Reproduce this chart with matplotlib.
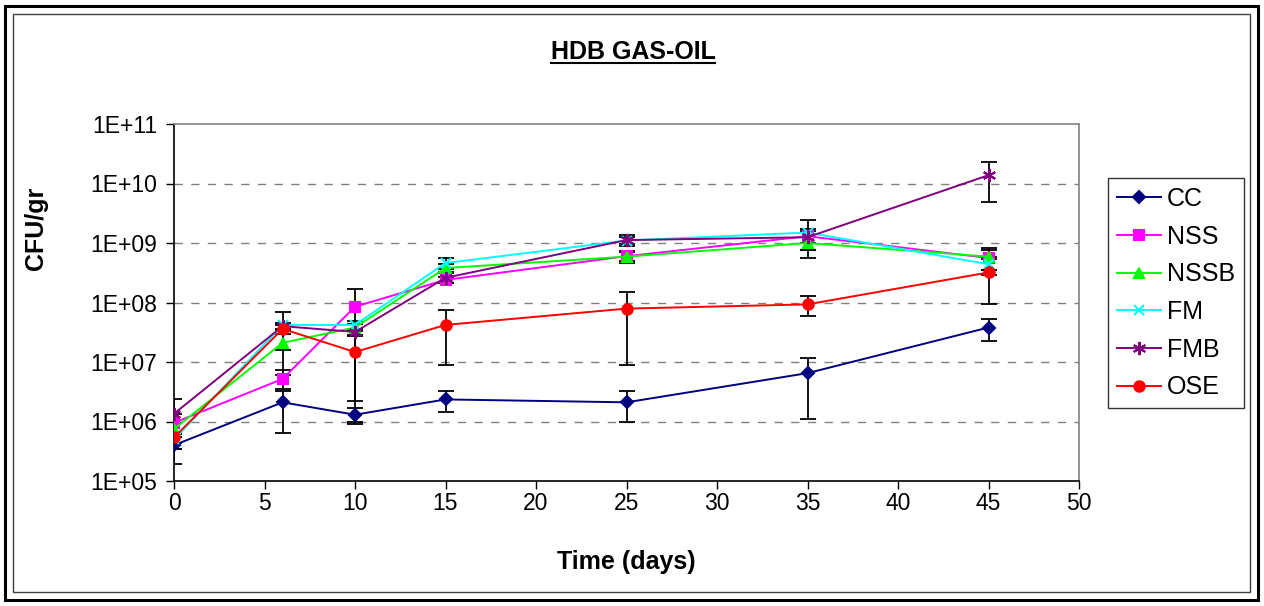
import math
import matplotlib
matplotlib.use("Agg")
import matplotlib.pyplot as plt
from matplotlib.patches import Rectangle
from matplotlib.lines import Line2D
from matplotlib.ticker import FixedLocator, NullLocator, FuncFormatter

plt.rcParams['font.family'] = ['Liberation Sans', 'DejaVu Sans']

days = [0, 6, 10, 15, 25, 35, 45]

cc = [4.0e5, 2.1e6, 1.3e6, 2.35e6, 2.1e6, 6.5e6, 3.8e7]
cc_err = [2.1e5, 1.45e6, 4.0e5, 9.0e5, 1.1e6, 5.4e6, 1.55e7]
nss = [9.5e5, 5.2e6, 8.5e7, 2.4e8, 6.0e8, 1.3e9, 5.6e8]
nss_err = [4.0e5, 2.0e6, 8.4e7, 3.0e7, 1.0e8, 3.0e8, 2.1e8]
nssb = [7.5e5, 2.1e7, 3.8e7, 3.8e8, 5.9e8, 1.0e9, 5.9e8]
nssb_err = [2.0e5, 1.5e7, 5.0e6, 6.0e7, 1.3e8, 2.5e8, 2.4e8]
fm = [5.0e5, 4.2e7, 4.2e7, 4.6e8, 1.1e9, 1.5e9, 4.4e8]
fm_err = [1.5e5, 2.6e7, 6.0e6, 9.0e7, 1.5e8, 9.3e8, 1.5e8]
fmb = [1.35e6, 4.0e7, 3.2e7, 2.6e8, 1.12e9, 1.25e9, 1.38e10]
fmb_err = [1.0e6, 5.0e6, 4.0e6, 5.0e7, 2.3e8, 5.0e8, 9.0e9]
ose = [5.4e5, 3.6e7, 1.47e7, 4.2e7, 7.9e7, 9.3e7, 3.2e8]
ose_err = [1.0e5, 6.0e6, 1.25e7, 3.3e7, 7.0e7, 3.4e7, 2.25e8]

labels = ['CC', 'NSS', 'NSSB', 'FM', 'FMB', 'OSE']
yticks = [1e5, 1e6, 1e7, 1e8, 1e9, 1e10, 1e11]
xticks = [0, 5, 10, 15, 20, 25, 30, 35, 40, 45, 50]

series = [cc, nss, nssb, fm, fmb, ose]
errors = [cc_err, nss_err, nssb_err, fm_err, fmb_err, ose_err]
colors = ['#000080', '#FF00FF', '#00FF00', '#00FFFF', '#800080', '#FF0000']
markers = ['D', 's', '^', 'x', (6, 2, 0), 'o']
msizes = [6.5, 6.5, 7.5, 7.5, 9.5, 7.5]

W, H = 1264, 606
fig = plt.figure(figsize=(W / 100, H / 100), dpi=100)
ax = fig.add_axes([174 / W, 1 - 481 / H, (1079 - 174) / W, (481 - 124) / H])

# frames around the chart
fig.patches.append(Rectangle((5 / W, 6 / H), (1258 - 5) / W, (600 - 6) / H,
                             transform=fig.transFigure, fill=False,
                             edgecolor='black', linewidth=2.2))
fig.patches.append(Rectangle((13 / W, 14 / H), (1250 - 13) / W, (592 - 14) / H,
                             transform=fig.transFigure, fill=False,
                             edgecolor='#404040', linewidth=1.0))

for y, e in zip(series, errors):
    ax.errorbar(days, y, yerr=e, fmt='none', ecolor='black', elinewidth=1.3,
                capsize=5.5, capthick=1.3, zorder=2)

handles = []
for y, lab, c, m, ms in zip(series, labels, colors, markers, msizes):
    h, = ax.plot(days, y, color=c, linewidth=1.4, marker=m, markersize=ms,
                 markerfacecolor=c, markeredgecolor=c, markeredgewidth=1.5,
                 label=lab, zorder=3)
    handles.append(h)

ax.set_yscale('log')
ax.set_ylim(1e5, 1e11)
ax.set_xlim(0, 50)
ax.yaxis.set_major_locator(FixedLocator(yticks))
ax.yaxis.set_minor_locator(NullLocator())
ax.yaxis.set_major_formatter(FuncFormatter(lambda v, p: '1E+%02d' % round(math.log10(v))))
ax.set_xticks(xticks)

for v in yticks[1:-1]:
    ax.axhline(v, color='#808080', linewidth=1.0, linestyle=(0, (6, 6)), zorder=1)

for s in ['top', 'right']:
    ax.spines[s].set_color('#808080')
    ax.spines[s].set_linewidth(1.2)
for s in ['left', 'bottom']:
    ax.spines[s].set_color('black')
    ax.spines[s].set_linewidth(1.2)

ax.tick_params(axis='both', direction='out', length=6, width=1.0,
               labelsize=16.5, colors='black')
ax.tick_params(axis='x', pad=2)
ax.tick_params(axis='y', pad=6)

fig.text(626 / W, 1 - 562 / H, 'Time (days)', ha='center', va='center',
         fontsize=18, fontweight='bold')
fig.text(36 / W, 1 - 228 / H, 'CFU/gr', ha='center', va='center',
         rotation=90, fontsize=18, fontweight='bold')

leg = fig.legend(handles=handles, loc='upper left',
                 bbox_to_anchor=(1108 / W, 1 - 178 / H), fontsize=18,
                 frameon=True, fancybox=False, edgecolor='black',
                 handlelength=1.76, labelspacing=0.55, borderpad=0.35,
                 handletextpad=0.25, borderaxespad=0)
leg.get_frame().set_linewidth(1.0)

title = fig.text(633 / W, 1 - 52 / H, 'HDB GAS-OIL', ha='center', va='center',
                 fontsize=18, fontweight='bold')
fig.canvas.draw()
bb = title.get_window_extent(fig.canvas.get_renderer())
inv = fig.transFigure.inverted()
(x0, y0), (x1, y1) = inv.transform([[bb.x0, bb.y0], [bb.x1, bb.y1]])
fig.add_artist(Line2D([x0, x1], [y0 + 1 / H, y0 + 1 / H], transform=fig.transFigure,
                      color='black', linewidth=1.5))

fig.savefig('out.png', dpi=100, facecolor='white')
